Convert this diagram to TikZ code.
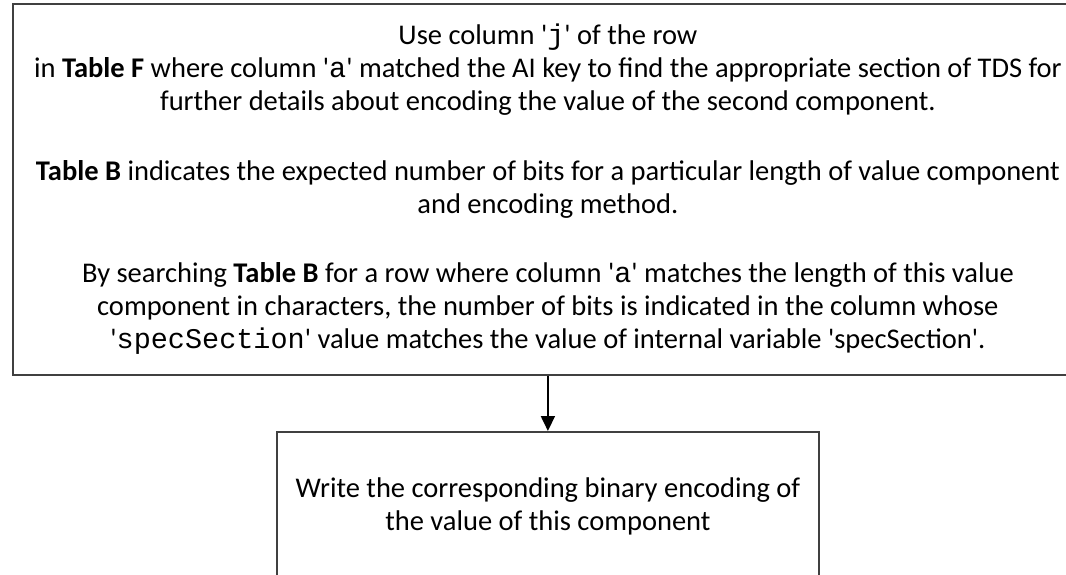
\documentclass[tikz,border=0pt]{standalone}
\usepackage{fontspec}
\setmainfont{Carlito}
\setmonofont{Liberation Mono}
\usetikzlibrary{arrows.meta}
\definecolor{boxgray}{HTML}{404040}
\newcommand{\sq}{\textquotesingle}
\begin{document}
\begin{tikzpicture}[x=1pt,y=1pt,
  box/.style={draw=boxgray, line width=1.8pt, align=center, inner sep=0pt,
    font=\fontsize{28.5}{33}\selectfont},
  conn/.style={line width=1.8pt, -{Triangle[length=15pt,width=14pt]}}]
\useasboundingbox (0,0) rectangle (1066,-574);
\clip (0,0) rectangle (1066,-574);
\node[box, minimum width=1070pt, minimum height=371pt, anchor=north west] (top) at (12,-3) {%
Use column \sq\texttt{j}\sq{} of the row\\
in \textbf{Table F} where column \sq\texttt{a}\sq{} matched the AI key to find the appropriate section of TDS for\\
further details about encoding the value of the second component.\\[37pt]
\textbf{Table B} indicates the expected number of bits for a particular length of value component\\
and encoding method.\\[36pt]
By searching \textbf{Table B} for a row where column \sq\texttt{a}\sq{} matches the length of this value\\
component in characters, the number of bits is indicated in the column whose\\
\sq\texttt{specSection}\sq{} value matches the value of internal variable \sq specSection\sq.};
\node[box, minimum width=542pt, minimum height=148pt, anchor=north west] (bottom) at (276,-431) {%
Write the corresponding binary encoding of\\
the value of this component};
\draw[conn] (top.south -| bottom.north) -- (bottom.north);
\end{tikzpicture}
\end{document}
